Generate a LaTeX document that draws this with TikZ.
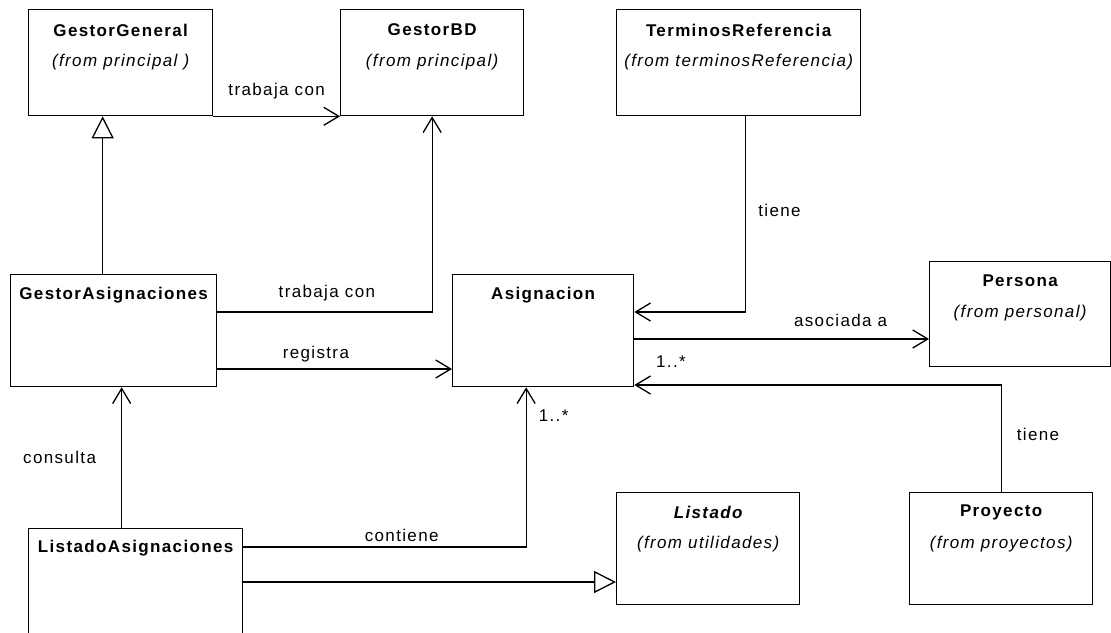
\documentclass[tikz,border=0pt]{standalone}
\usepackage{fontspec}
\setmainfont{Liberation Sans}[LetterSpace=8]
\usetikzlibrary{arrows.meta,positioning}
\tikzset{
  every node/.style={font=\fontsize{17pt}{20pt}\selectfont},
  classbox/.style={draw=black, line width=1.3pt, fill=white, anchor=north west, inner sep=0pt},
  classname/.style={font=\fontsize{17pt}{20pt}\selectfont\bfseries, inner sep=0pt},
  classfrom/.style={font=\fontsize{17pt}{20pt}\selectfont\itshape, inner sep=0pt},
  lbl/.style={font=\fontsize{17pt}{20pt}\selectfont, inner sep=0pt},
  assoc/.style={-{Straight Barb[length=15pt,width=18pt,line width=1.3pt]}, line width=1.3pt},
  gener/.style={-{Triangle[open,length=22pt,width=22pt,fill=white,line width=1.3pt]}, line width=1.3pt},
}
\begin{document}
\begin{tikzpicture}[x=1pt, y=-1pt]
\path[use as bounding box, fill=white] (0,0) rectangle (1111,632);
% clases
\node[classbox, minimum width=184pt, minimum height=106pt] (gg) at (28,9) {};
\node[classname] (gg-n) at ([yshift=-21pt]gg.north) {GestorGeneral};
\node[classfrom] (gg-f) at ([yshift=-53pt]gg.north) {(from principal )};
\node[classbox, minimum width=183pt, minimum height=106pt] (gbd) at (340,9) {};
\node[classname] (gbd-n) at ([yshift=-21pt]gbd.north) {GestorBD};
\node[classfrom] (gbd-f) at ([yshift=-53pt]gbd.north) {(from principal)};
\node[classbox, minimum width=244pt, minimum height=106pt] (tr) at (616,9) {};
\node[classname] (tr-n) at ([yshift=-21pt]tr.north) {TerminosReferencia};
\node[classfrom] (tr-f) at ([yshift=-53pt]tr.north) {(from terminosReferencia)};
\node[classbox, minimum width=206pt, minimum height=112pt] (ga) at (10,274) {};
\node[classname] (ga-n) at ([yshift=-21pt]ga.north) {GestorAsignaciones};
\node[classbox, minimum width=181pt, minimum height=112pt] (asig) at (452,274) {};
\node[classname] (asig-n) at ([yshift=-21pt]asig.north) {Asignacion};
\node[classbox, minimum width=181pt, minimum height=105pt] (pers) at (929,261) {};
\node[classname] (pers-n) at ([yshift=-20pt]pers.north) {Persona};
\node[classfrom] (pers-f) at ([yshift=-52pt]pers.north) {(from personal)};
\node[classbox, minimum width=214pt, minimum height=112pt] (la) at (28,528) {};
\node[classname] (la-n) at ([yshift=-20pt]la.north) {ListadoAsignaciones};
\node[classbox, minimum width=183pt, minimum height=112pt] (lst) at (616,492) {};
\node[classname, font=\fontsize{17pt}{20pt}\selectfont\bfseries\itshape] (lst-n) at ([yshift=-20pt]lst.north) {Listado};
\node[classfrom] (lst-f) at ([yshift=-52pt]lst.north) {(from utilidades)};
\node[classbox, minimum width=183pt, minimum height=112pt] (proy) at (909,492) {};
\node[classname] (proy-n) at ([yshift=-20pt]proy.north) {Proyecto};
\node[classfrom] (proy-f) at ([yshift=-52pt]proy.north) {(from proyectos)};
% puntos de enganche
\coordinate (g1) at ([yshift=-38pt]ga.north east);
\coordinate (g2) at ([yshift=-95pt]ga.north east);
\coordinate (g3) at ([xshift=-11pt]ga.north);
\coordinate (a1) at ([yshift=-65pt]asig.north east);
\coordinate (a2) at ([yshift=-111pt]asig.north east);
\coordinate (a3) at ([yshift=-38pt]asig.north east);
\coordinate (l1) at ([yshift=-19pt]la.north east);
\coordinate (l2) at ([yshift=-54pt]la.north east);
\coordinate (l3) at ([xshift=-14pt]la.north);
% relaciones
\draw[assoc] (gg.south east) -- (gbd.south west) node[lbl, midway, above=17pt] (t1) {trabaja con};
\draw[gener] (g3) -- (g3 |- gg.south);
\draw[assoc] (g1) -| (gbd.south) node[lbl, pos=0.255, above=10pt] (t2) {trabaja con};
\draw[assoc] (g2) -- (g2 -| asig.west) node[lbl, pos=0.42, above=6pt] (t3) {registra};
\draw[assoc] ([xshift=7pt]tr.south) |- (a3) node[lbl, pos=0.24, right=12pt] (t4) {tiene};
\draw[assoc] (a1) -- (a1 -| pers.west) node[lbl, pos=0.70, above=12pt] (t5) {asociada a};
\draw[assoc] (proy.north) |- (a2) node[lbl, pos=0.27, right=15pt] (t6) {tiene}
  node[lbl, pos=0.95, above=17pt] (m1) {1..*};
\draw[assoc] (l3) -- (l3 |- ga.south) node[lbl, midway, left=25pt] (t7) {consulta};
\draw[assoc] (l1) -| ([xshift=-17pt]asig.south) node[lbl, pos=0.28, above=5pt] (t8) {contiene}
  node[lbl, pos=0.91, right=12pt] (m2) {1..*};
\draw[gener] (l2) -- (l2 -| lst.west);
\end{tikzpicture}
\end{document}
